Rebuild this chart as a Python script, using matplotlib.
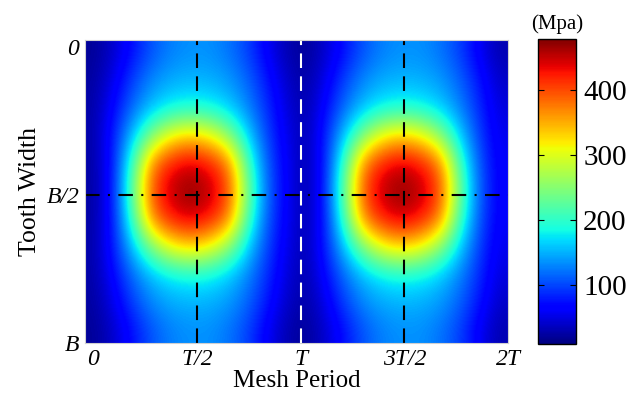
import numpy as np
import matplotlib
matplotlib.use("Agg")
import matplotlib.pyplot as plt

plt.rcParams['font.family'] = ['Liberation Serif', 'DejaVu Serif']

# stress (MPa) over one mesh period
# rows: tooth width 0, B/10, ..., B ; columns: 0, T/10, ..., T
x_frac = [0.0, 0.1, 0.2, 0.3, 0.4, 0.5, 0.6, 0.7, 0.8, 0.9, 1.0]
y_frac = [0.0, 0.1, 0.2, 0.3, 0.4, 0.5, 0.6, 0.7, 0.8, 0.9, 1.0]
stress_period = [
    [20, 42, 75, 108, 128, 135, 135, 122, 98, 60, 30],
    [24, 55, 100, 133, 148, 152, 150, 140, 115, 78, 40],
    [26, 70, 120, 158, 180, 188, 182, 163, 130, 88, 48],
    [27, 82, 160, 250, 315, 335, 315, 255, 165, 98, 55],
    [25, 80, 210, 375, 425, 445, 425, 375, 210, 108, 60],
    [24, 82, 232, 400, 455, 475, 455, 400, 235, 112, 62],
    [25, 80, 210, 375, 425, 445, 425, 375, 210, 108, 60],
    [27, 82, 160, 250, 315, 335, 315, 255, 165, 98, 55],
    [26, 70, 120, 158, 180, 188, 182, 163, 130, 88, 48],
    [24, 55, 100, 133, 148, 152, 150, 140, 115, 78, 40],
    [20, 42, 75, 108, 128, 135, 135, 122, 98, 60, 30],
]
n_periods = 2

xtick_pos = [0, 0.5, 1, 1.5, 2]
xtick_lab = ['0', 'T/2', 'T', '3T/2', '2T']
ytick_pos = [0, 0.5, 1]
ytick_lab = ['0', 'B/2', 'B']
cbar_ticks = [100, 200, 300, 400]

field = np.hstack([np.array(stress_period)] * n_periods)

fig = plt.figure(figsize=(6.27, 4.08), dpi=100)
ax = fig.add_axes([0.1356, 0.159, 0.6746, 0.743])
im = ax.imshow(field, cmap='jet', vmin=10, vmax=478, aspect='auto',
               interpolation='bicubic', extent=(-0.04, 2.0, 1.0, -0.025))
ax.set_xlim(-0.04, 2.0)
ax.set_ylim(1.0, -0.025)

ax.axvline(0.5, color='k', lw=1.5, ls=(0, (7, 4)))
ax.axvline(1.5, color='k', lw=1.5, ls=(0, (7, 4)))
ax.axvline(1.0, color='white', lw=1.5, ls=(0, (7, 4)))
ax.axhline(0.5, color='k', lw=1.5, ls=(0, (7, 4, 1, 4)))

ax.set_xticks(xtick_pos)
ax.set_xticklabels(xtick_lab, fontstyle='italic', fontsize=17)
ax.set_yticks(ytick_pos)
ax.set_yticklabels(ytick_lab, fontstyle='italic', fontsize=17)
ax.tick_params(length=0, pad=4)
for s in ax.spines.values():
    s.set_color('#d0d0d0')
    s.set_linewidth(0.8)

ax.set_xlabel('Mesh Period', fontsize=18, labelpad=0)
ax.set_ylabel('Tooth Width', fontsize=18.5, labelpad=4)

cax = fig.add_axes([0.858, 0.157, 0.061, 0.748])
cb = fig.colorbar(im, cax=cax, ticks=cbar_ticks)
cb.outline.set_linewidth(1.0)
cax.tick_params(direction='in', length=4, width=0.8, left=True, right=True,
                labelsize=21, pad=5)
cax.set_title('(Mpa)', fontsize=15, pad=7)

fig.savefig('out.png', dpi=100)
